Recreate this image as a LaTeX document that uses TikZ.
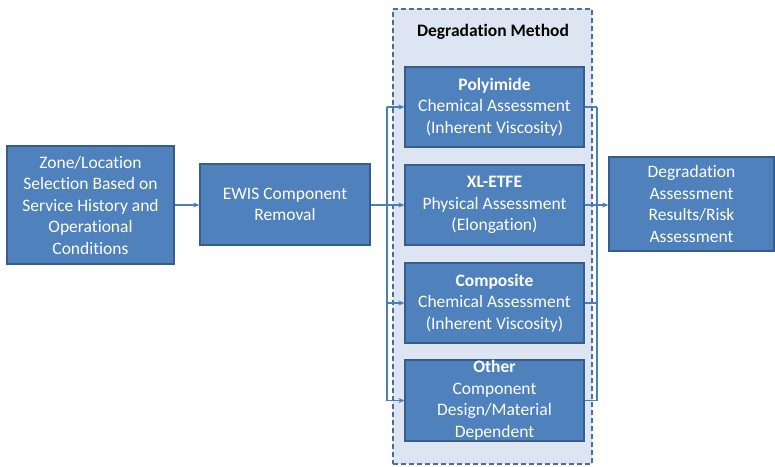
\documentclass[tikz,border=0pt]{standalone}
\usepackage{fontspec}
\setmainfont[Ligatures=NoCommon]{Carlito}
\usetikzlibrary{arrows.meta,calc}
\definecolor{boxfill}{HTML}{4F81BD}
\definecolor{boxline}{HTML}{385D8A}
\definecolor{contfill}{HTML}{DCE5F1}
\definecolor{contline}{HTML}{4A6E9C}
\definecolor{arr}{HTML}{4A7EBB}
\begin{document}
\begin{tikzpicture}[x=1pt,y=-1pt,
  bx/.style={draw=boxline,line width=1.2pt,fill=boxfill,text=white,align=center,
    inner sep=0pt,font=\fontsize{17.5}{21.5}\selectfont},
  conn/.style={draw=arr,line width=1.3pt},
  arw/.style={conn,-{Stealth[length=6pt,width=5pt]}}]
\useasboundingbox (0,0) rectangle (775,466);
\node[draw=contline,dash pattern=on 5pt off 3pt,line width=1.2pt,fill=contfill,minimum width=199pt,minimum height=455pt,inner sep=0pt] (cont) at (492.5,236.5) {};
\node[font=\fontsize{17.5}{21.5}\selectfont\bfseries] (title) at (493,32) {Degradation Method};
\node[bx,minimum width=167pt,minimum height=118pt] (zone) at (90.5,205) {Zone/Location\\Selection Based on\\Service History and\\Operational\\Conditions};
\node[bx,minimum width=170pt,minimum height=81pt] (ewis) at (285,204.5) {EWIS Component\\Removal};
\node[bx,minimum width=179pt,minimum height=80pt] (poly) at (494.5,107) {\textbf{Polyimide}\\Chemical Assessment\\(Inherent Viscosity)};
\node[bx,minimum width=179pt,minimum height=80pt] (xl) at (494.5,205) {\textbf{XL-ETFE}\\Physical Assessment\\(Elongation)};
\node[bx,minimum width=179pt,minimum height=80pt] (comp) at (494.5,303) {\textbf{Composite}\\Chemical Assessment\\(Inherent Viscosity)};
\node[bx,minimum width=179pt,minimum height=81pt] (other) at (494.5,400.5) {\textbf{Other}\\Component\\Design/Material\\Dependent};
\node[bx,minimum width=165pt,minimum height=94pt] (res) at (691.5,204) {Degradation\\Assessment\\Results/Risk\\Assessment};
\coordinate (lt) at (387,107);
\coordinate (lb) at (387,400.5);
\coordinate (lm) at (387,205);
\coordinate (rt) at (597,107);
\coordinate (rb) at (597,400.5);
\coordinate (rm) at (597,205);
\draw[arw] (zone.east |- 0,205) -- (ewis.west |- 0,205);
\draw[conn] (ewis.east |- lm) -- (lm);
\draw[conn] (lt) -- (lb);
\draw[conn] (rt) -- (rb);
\foreach \n in {poly,xl,comp,other}{
  \draw[arw] (lt |- \n.west) -- (\n.west);
  \draw[conn] (\n.east) -- (rt |- \n.east);
}
\draw[arw] (rm) -- (res.west |- rm);
\end{tikzpicture}
\end{document}
